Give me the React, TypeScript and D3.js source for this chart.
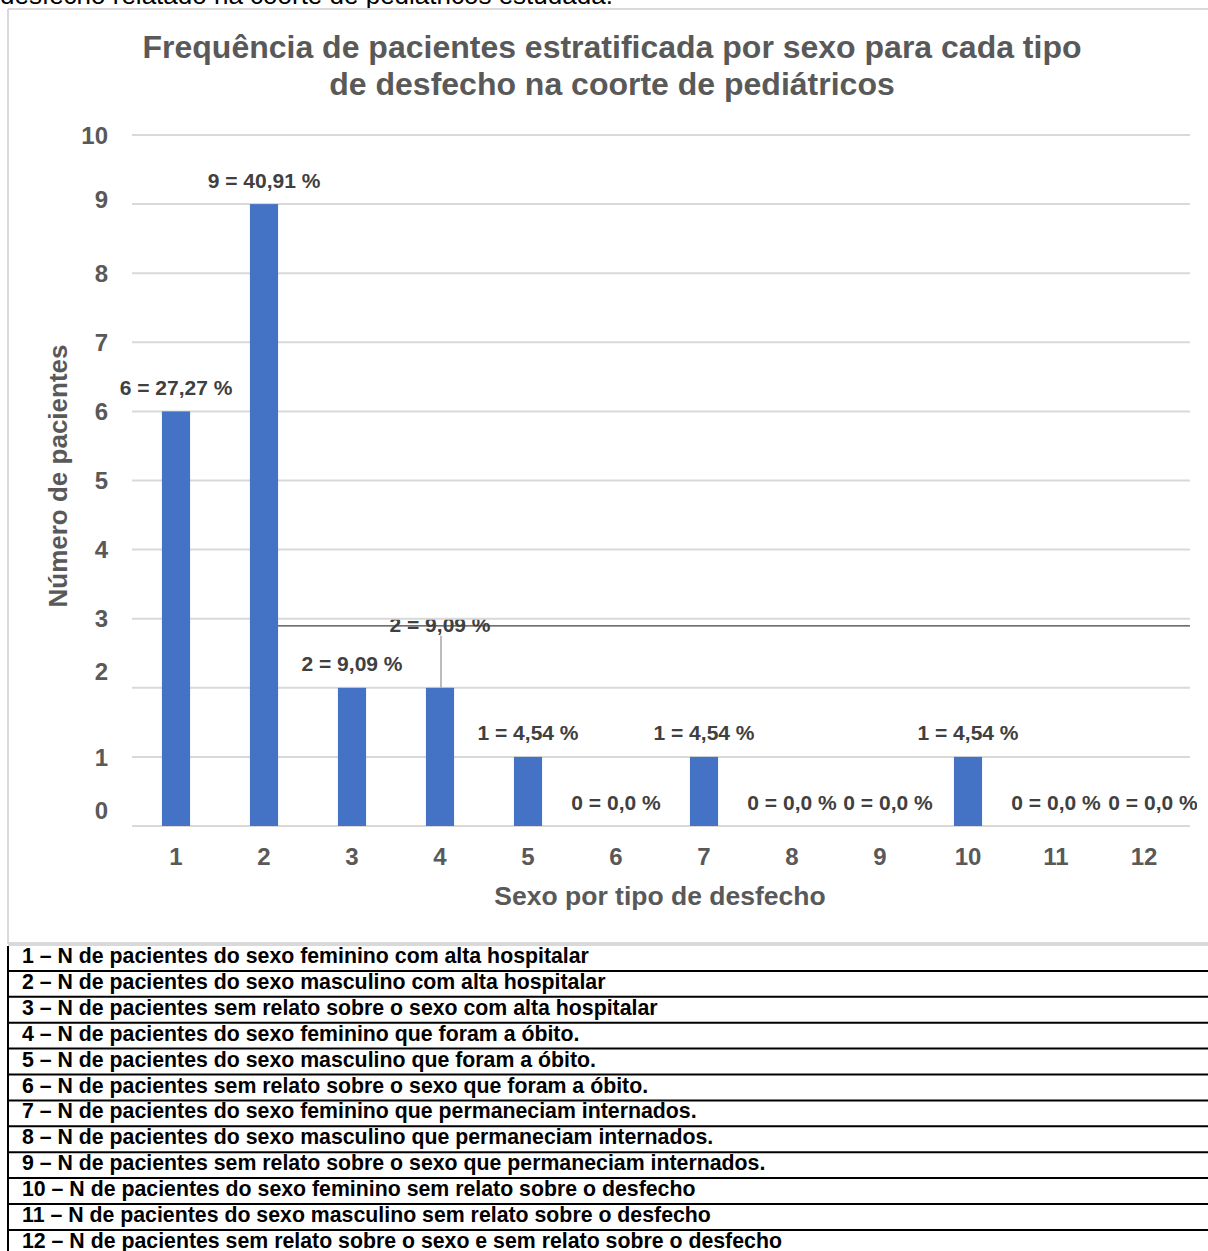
import React from 'react';
import * as d3 from 'd3';

// Outcome categories on the x axis and the number of patients in each
const categories = ['1', '2', '3', '4', '5', '6', '7', '8', '9', '10', '11', '12'];
const counts = [6, 9, 2, 2, 1, 0, 1, 0, 0, 1, 0, 0];
const percents = ['27,27', '40,91', '9,09', '9,09', '4,54', '0,0', '4,54', '0,0', '0,0', '4,54', '0,0', '0,0'];
const yTicks = [0, 1, 2, 3, 4, 5, 6, 7, 8, 9, 10];

const titleLines = [
  'Frequência de pacientes estratificada por sexo para cada tipo',
  'de desfecho na coorte de pediátricos',
];
const yAxisTitle = 'Número de pacientes';
const xAxisTitle = 'Sexo por tipo de desfecho';
const captionAbove = 'desfecho relatado na coorte de pediátricos estudada.';

const legendItems = [
  '1 – N de pacientes do sexo feminino com alta hospitalar',
  '2 – N de pacientes do sexo masculino com alta hospitalar',
  '3 – N de pacientes sem relato sobre o sexo com alta hospitalar',
  '4 – N de pacientes do sexo feminino que foram a óbito.',
  '5 – N de pacientes do sexo masculino que foram a óbito.',
  '6 – N de pacientes sem relato sobre o sexo que foram a óbito.',
  '7 – N de pacientes do sexo feminino que permaneciam internados.',
  '8 – N de pacientes do sexo masculino que permaneciam internados.',
  '9 – N de pacientes sem relato sobre o sexo que permaneciam internados.',
  '10 – N de pacientes do sexo feminino sem relato sobre o desfecho',
  '11 – N de pacientes do sexo masculino sem relato sobre o desfecho',
  '12 – N de pacientes sem relato sobre o sexo e sem relato sobre o desfecho',
];

const FONT = '"Liberation Sans", Arial, Helvetica, sans-serif';
const BAR = '#4472C4';
const GRID = '#D9D9D9';
const AXIS_TEXT = '#595959';
const LABEL_TEXT = '#404040';

export default function App() {
  const W = 1208;
  const H = 1251;

  const x = d3.scaleBand<string>()
    .domain(categories)
    .range([132, 1188])
    .paddingInner(0.68)
    .paddingOuter(0.34);
  const y = d3.scaleLinear().domain([0, 10]).range([826, 135]);

  // small vertical nudges of a few tick labels
  const tickNudge: Record<number, number> = { 0: -16, 2: -16, 9: -5 };
  // labels pushed sideways so neighbours do not collide
  const labelShift: Record<number, number> = { 8: 8, 11: 9 };

  const rowY = d3.scaleLinear().domain([0, 12]).range([946, 946 + 12 * 25.9]);

  const callout = 3; // index whose label sits higher with a leader line
  const calloutY = y(counts[callout]) - 63;

  return (
    <svg
      width={W}
      height={H}
      viewBox={`0 0 ${W} ${H}`}
      style={{ position: 'absolute', left: 0, top: 0, background: '#fff' }}
      fontFamily={FONT}
    >
      <defs>
        <clipPath id="plotClip">
          <rect x={0} y={0} width={1197} height={H} />
        </clipPath>
        <clipPath id="calloutClip">
          <rect x={0} y={calloutY - 5} width={W} height={40} />
        </clipPath>
      </defs>

      {/* caption line of the surrounding document, cut at the top */}
      <text x={0} y={4} fontSize={26} fill="#000">{captionAbove}</text>

      {/* chart frame */}
      <line x1={8} x2={W} y1={9} y2={9} stroke={GRID} strokeWidth={2} />
      <line x1={8} x2={8} y1={9} y2={944} stroke={GRID} strokeWidth={2} />
      <rect x={8} y={942} width={W - 8} height={4} fill={GRID} />

      {/* title */}
      {titleLines.map((t, i) => (
        <text key={t} x={612} y={58 + i * 37} textAnchor="middle" fontSize={32} fontWeight="bold" fill={AXIS_TEXT}>
          {t}
        </text>
      ))}

      {/* grid lines */}
      {yTicks.map((t) => (
        <line key={t} x1={132} x2={1190} y1={y(t)} y2={y(t)} stroke={GRID} strokeWidth={2} />
      ))}

      {/* y tick labels */}
      {yTicks.map((t) => (
        <text
          key={t}
          x={108}
          y={y(t) + (tickNudge[t] ?? 0)}
          dy="0.36em"
          textAnchor="end"
          fontSize={24}
          fontWeight="bold"
          fill={AXIS_TEXT}
        >
          {t}
        </text>
      ))}

      {/* y axis title */}
      <text
        transform={`translate(58, ${476}) rotate(-90)`}
        textAnchor="middle"
        dy="0.36em"
        fontSize={26}
        fontWeight="bold"
        fill={AXIS_TEXT}
      >
        {yAxisTitle}
      </text>

      {/* bars */}
      {categories.map((c, i) => (
        <rect
          key={c}
          x={x(c)!}
          y={y(counts[i])}
          width={x.bandwidth()}
          height={y(0) - y(counts[i])}
          fill={BAR}
        />
      ))}

      {/* x tick labels */}
      {categories.map((c) => (
        <text
          key={c}
          x={x(c)! + x.bandwidth() / 2}
          y={856}
          dy="0.36em"
          textAnchor="middle"
          fontSize={24}
          fontWeight="bold"
          fill={AXIS_TEXT}
        >
          {c}
        </text>
      ))}

      {/* x axis title */}
      <text x={660} y={895} dy="0.36em" textAnchor="middle" fontSize={26.5} fontWeight="bold" fill={AXIS_TEXT}>
        {xAxisTitle}
      </text>

      {/* leader line and the line through the raised label */}
      <line x1={x(categories[1])! + x.bandwidth()} x2={1190} y1={calloutY + 1} y2={calloutY + 1} stroke="#404040" strokeWidth={1.2} />
      <line
        x1={x(categories[callout])! + x.bandwidth() / 2 + 1}
        x2={x(categories[callout])! + x.bandwidth() / 2 + 1}
        y1={calloutY + 11}
        y2={y(counts[callout])}
        stroke="#A6A6A6"
        strokeWidth={1.5}
      />

      {/* data labels */}
      <g clipPath="url(#plotClip)">
        {categories.map((c, i) => {
          const isCallout = i === callout;
          const ly = isCallout ? calloutY : y(counts[i]) - 24;
          return (
            <text
              key={c}
              x={x(c)! + x.bandwidth() / 2 + (labelShift[i] ?? 0)}
              y={ly}
              dy="0.36em"
              textAnchor="middle"
              fontSize={21}
              fontWeight="bold"
              fill={LABEL_TEXT}
              clipPath={isCallout ? 'url(#calloutClip)' : undefined}
            >
              {`${counts[i]} = ${percents[i]} %`}
            </text>
          );
        })}
      </g>

      {/* legend table */}
      <line x1={8} x2={8} y1={946} y2={H} stroke="#000" strokeWidth={2} />
      {legendItems.map((t, i) => (
        <g key={t}>
          <text x={22} y={rowY(i) + 17} fontSize={21.3} fontWeight="bold" fill="#000">
            {t}
          </text>
          {i < legendItems.length - 1 && (
            <line x1={8} x2={W} y1={rowY(i + 1) - 1} y2={rowY(i + 1) - 1} stroke="#000" strokeWidth={2} />
          )}
        </g>
      ))}
    </svg>
  );
}
